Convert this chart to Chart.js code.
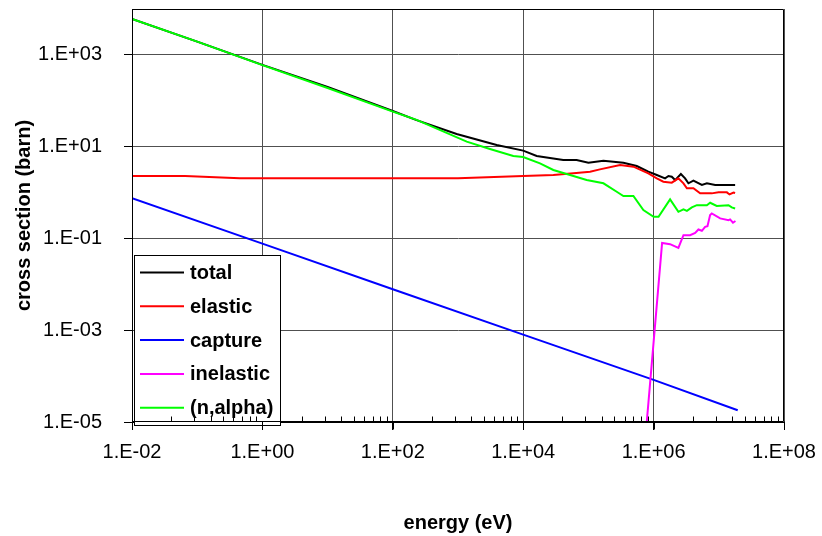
<!DOCTYPE html>
<html>
<head>
<meta charset="utf-8">
<title>cross sections</title>
<script src="https://cdn.jsdelivr.net/npm/chart.js@4.4.1/dist/chart.umd.min.js"></script>
<style>
  html, body { margin: 0; padding: 0; background: #fff; }
  canvas { display: block; }
</style>
</head>
<body>
<canvas id="xs" width="822" height="536"></canvas>
<script>
// energies in eV, cross sections in barn
const totalE  = [0.01, 0.1, 1, 10, 100, 226, 953, 3920, 1.0e4, 1.61e4, 4.12e4, 6.6e4, 1.0e5, 1.7e5, 3.44e5, 5.52e5, 8.3e5,
                 1.12e6, 1.5e6, 1.69e6, 1.9e6, 2.14e6, 2.62e6, 3.04e6, 3.42e6, 4.08e6, 5.5e6, 6.56e6, 8.8e6, 1.78e7];
const totalXs = [6100, 1950, 605, 200, 60, 38.3, 18.9, 10.9, 8.2, 6.27, 5.13, 5.13, 4.48, 4.95, 4.48, 3.79, 2.85,
                 2.41, 2.04, 2.29, 2.21, 1.87, 2.54, 2.04, 1.59, 1.81, 1.46, 1.59, 1.46, 1.46];

const elasticE  = [0.01, 0.065, 0.45, 1000, 1.0e4, 2.9e4, 5.9e4, 1.06e5, 1.5e5, 3.06e5, 4.9e5, 8.3e5, 1.12e6, 1.41e6,
                   1.9e6, 2.4e6, 2.87e6, 3.24e6, 4.08e6, 5.17e6, 7.8e6, 9.9e6, 1.33e7, 1.46e7, 1.68e7, 1.78e7];
const elasticXs = [2.29, 2.29, 2.04, 2.04, 2.29, 2.41, 2.62, 2.85, 3.2, 3.98, 3.66, 2.62, 2.04, 1.72,
                   1.64, 2.04, 1.59, 1.24, 1.24, 0.96, 0.96, 1.01, 1.01, 0.91, 1.0, 0.98];

const captureE  = [0.01, 1, 100, 1.0e4, 1.0e6, 1.95e7];
const captureXs = [0.75, 0.077, 0.0078, 8.0e-4, 8.3e-5, 1.8e-5];

const inelasticE  = [7.4e5, 1.35e6, 1.79e6, 2.4e6, 2.87e6, 3.63e6, 4.34e6, 4.87e6, 5.5e6, 6.17e6, 6.7e6, 7.36e6, 7.8e6,
                     1.05e7, 1.41e7, 1.49e7, 1.65e7, 1.8e7];
const inelasticXs = [3.7e-6, 0.080, 0.075, 0.062, 0.118, 0.118, 0.132, 0.157, 0.147, 0.179, 0.185, 0.323, 0.35,
                     0.273, 0.25, 0.26, 0.22, 0.24];

const alphaE  = [0.01, 0.1, 1, 10, 100, 232, 1360, 3090, 7050, 1.0e4, 1.81e4, 2.9e4, 4.65e4, 9.4e4, 1.7e5, 2.72e5, 3.44e5,
                 4.9e5, 6.97e5, 1.0e6, 1.19e6, 1.79e6, 2.4e6, 2.87e6, 3.24e6, 3.86e6, 4.6e6, 6.56e6, 7.36e6, 9.3e6,
                 1.41e7, 1.58e7, 1.78e7];
const alphaXs = [6100, 1950, 600, 190, 58, 38.3, 12.9, 8.9, 6.27, 5.96, 4.34, 3.1, 2.54, 1.87, 1.59, 1.04, 0.84,
                 0.84, 0.415, 0.296, 0.296, 0.71, 0.38, 0.43, 0.40, 0.475, 0.53, 0.53, 0.6, 0.51,
                 0.53, 0.475, 0.45];

const xTicks = [1e-2, 1e0, 1e2, 1e4, 1e6, 1e8];
const yTicks = [1e-5, 1e-3, 1e-1, 1e1, 1e3];

const FONT = '"Liberation Sans", Arial, Helvetica, sans-serif';

function pairs(xs, ys) {
  return xs.map((x, i) => ({ x: x, y: ys[i] }));
}

// Excel-style "1.E+03" labels
function sciLabel(v) {
  const e = Math.round(Math.log10(v));
  return '1.E' + (e < 0 ? '-' : '+') + String(Math.abs(e)).padStart(2, '0');
}

function series(label, xs, ys, color, order) {
  return {
    label: label,
    data: pairs(xs, ys),
    borderColor: color,
    backgroundColor: color,
    borderWidth: 2,
    pointRadius: 0,
    showLine: true,
    tension: 0,
    order: order,
  };
}

// keep the plot box fixed: no extra room for overhanging tick labels
function noOverhang(s) {
  s.paddingTop = 0;
  s.paddingBottom = 0;
  s.paddingLeft = 0;
  s.paddingRight = 0;
}

// boxed legend sitting in the lower left corner of the plot,
// then the axis lines, frame and minor ticks drawn on top of it
const overlay = {
  id: 'overlay',
  afterDatasetsDraw(chart) {
    const ctx = chart.ctx;
    const area = chart.chartArea;
    const xs = chart.scales.x;

    ctx.save();
    ctx.fillStyle = '#fff';
    ctx.fillRect(134, 255, 146, 171);
    ctx.strokeStyle = '#000';
    ctx.lineWidth = 1;
    ctx.strokeRect(134.5, 255.5, 146, 170);

    ctx.font = 'bold 20px ' + FONT;
    ctx.textBaseline = 'middle';
    ctx.textAlign = 'left';
    chart.data.datasets.forEach((ds, i) => {
      const y = 272.5 + i * 33.8;
      ctx.strokeStyle = ds.borderColor;
      ctx.lineWidth = 2;
      ctx.beginPath();
      ctx.moveTo(140, y);
      ctx.lineTo(184, y);
      ctx.stroke();
      ctx.fillStyle = '#000';
      ctx.fillText(ds.label, 190, y + 1);
    });

    // frame
    ctx.strokeStyle = '#000';
    ctx.lineWidth = 1;
    const l = Math.round(area.left) + 0.5, r = Math.round(area.right) - 0.5;
    const t = Math.round(area.top) + 0.5, b = Math.round(area.bottom) - 0.5;
    ctx.beginPath();
    ctx.moveTo(l, t); ctx.lineTo(r, t); ctx.lineTo(r, b); ctx.lineTo(l, b); ctx.lineTo(l, t);
    ctx.stroke();

    // major ticks below the energy axis
    ctx.beginPath();
    xTicks.forEach(v => {
      const px = Math.round(xs.getPixelForValue(v)) + 0.5;
      ctx.moveTo(px, b);
      ctx.lineTo(px, b + 8);
    });
    // minor ticks inside the plot, k^2 steps over each two-decade span
    for (let d = 1e-2; d < 1e8; d *= 100) {
      for (let k = 2; k <= 9; k++) {
        const px = Math.round(xs.getPixelForValue(d * k * k)) + 0.5;
        ctx.moveTo(px, b);
        ctx.lineTo(px, b - 5);
      }
    }
    ctx.stroke();
    ctx.restore();
  }
};

new Chart(document.getElementById('xs'), {
  type: 'scatter',
  data: {
    datasets: [
      series('total', totalE, totalXs, '#000000', 5),
      series('elastic', elasticE, elasticXs, '#ff0000', 4),
      series('capture', captureE, captureXs, '#0000ff', 3),
      series('inelastic', inelasticE, inelasticXs, '#ff00ff', 2),
      series('(n,alpha)', alphaE, alphaXs, '#00ff00', 1),
    ],
  },
  options: {
    responsive: false,
    animation: false,
    devicePixelRatio: 1,
    layout: { padding: { top: 9, right: 38, left: 0, bottom: 0 } },
    plugins: {
      legend: { display: false },
      tooltip: { enabled: false },
    },
    scales: {
      x: {
        type: 'logarithmic',
        position: 'bottom',
        min: 1e-2,
        max: 1e8,
        afterBuildTicks: s => { s.ticks = xTicks.map(v => ({ value: v })); },
        afterFit: s => { s.height = 114; noOverhang(s); },
        ticks: {
          callback: v => sciLabel(v),
          autoSkip: false,
          maxRotation: 0,
          padding: 10,
          color: '#000',
          font: { family: FONT, size: 20 },
        },
        grid: { color: '#505050', lineWidth: 1, drawTicks: true, tickLength: 8, tickColor: '#000' },
        border: { display: true, color: '#000', width: 1 },
        title: {
          display: true,
          text: 'energy (eV)',
          color: '#000',
          font: { family: FONT, size: 20, weight: 'bold' },
          padding: { top: 0, bottom: 1 },
        },
      },
      y: {
        type: 'logarithmic',
        min: 1e-5,
        max: 1e4,
        afterBuildTicks: s => { s.ticks = yTicks.map(v => ({ value: v })); },
        afterFit: s => { s.width = 132; noOverhang(s); },
        ticks: {
          callback: v => sciLabel(v),
          autoSkip: false,
          padding: 22,
          color: '#000',
          font: { family: FONT, size: 20 },
        },
        grid: { color: '#505050', lineWidth: 1, drawTicks: true, tickLength: 8, tickColor: '#000' },
        border: { display: true, color: '#000', width: 1 },
        title: {
          display: true,
          text: 'cross section (barn)',
          color: '#000',
          font: { family: FONT, size: 20, weight: 'bold' },
          padding: { top: 12, bottom: 0 },
        },
      },
    },
  },
  plugins: [overlay],
});
</script>
</body>
</html>
